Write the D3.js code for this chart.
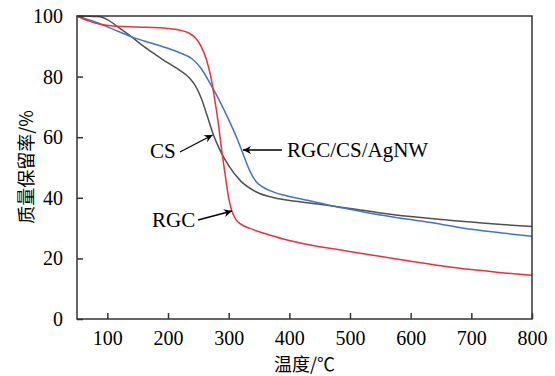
<!DOCTYPE html>
<html><head><meta charset="utf-8">
<script src="https://cdn.jsdelivr.net/npm/d3@7"></script>
<style>body{margin:0;background:#fff}svg{display:block}
.serif{font-family:"Liberation Serif","Times New Roman",Times,serif}
.cjk{font-family:"Noto Sans CJK SC","Noto Sans CJK JP",sans-serif}
</style>
</head><body>
<svg id="c" width="555" height="376"></svg>
<script>
const xTicks = [100,200,300,400,500,600,700,800];
const yTicks = [0,20,40,60,80,100];
const csT = [50,85,100,120,140,160,180,200,220,235,245,255,265,275,285,300,320,345,375,410,450,500,550,600,650,700,750,800];
const csW = [100,99.8,98.8,96,93.1,90,87.2,84.5,82,79.6,77,72.8,66.8,60.7,56,50.6,45.5,42,40,38.9,37.9,36.5,35,33.8,32.8,32,31.2,30.5];
const agT = [50,80,110,140,180,220,240,255,270,285,300,315,325,335,345,355,370,390,420,460,500,550,600,650,700,750,800];
const agW = [100,98,95.6,93.1,90.6,87.8,85.8,82.6,77.5,72,65.8,59,53.8,48.8,45.4,43.7,42.2,40.9,39.6,37.8,36.2,34.3,32.8,31.3,29.6,28.4,27.3];
const rgT = [50,70,90,110,150,200,220,235,245,255,263,270,277,283,289,295,300,305,312,320,335,360,390,430,480,530,590,650,700,750,800];
const rgW = [100,98.3,97.2,96.7,96.4,95.9,95.3,94.3,92.8,89.8,85.8,80.5,72.5,64.5,55,46.5,40,35.8,32.8,31.3,29.9,28.2,26.4,24.6,22.9,21.3,19.4,17.6,16.3,15.3,14.4];
const seriesNames = ["CS","RGC/CS/AgNW","RGC"];
const colors = ["#505050","#4472c4","#e8323e"];
const xLabel = "温度/℃", yLabel = "质量保留率/%";

const svg = d3.select("#c");
const L=77,R=532,T=16,B=319;
const x = d3.scaleLinear().domain([50,800]).range([L,R]);
const y = d3.scaleLinear().domain([0,100]).range([B,T]);

const data = [[csT,csW],[agT,agW],[rgT,rgW]];
const line = d3.line().x(d=>x(d[0])).y(d=>y(d[1])).curve(d3.curveMonotoneX);
data.forEach((s,i)=>{
  const pts = s[0].map((t,j)=>[t,s[1][j]]);
  svg.append("path").attr("d",line(pts)).attr("fill","none")
    .attr("stroke",colors[i]).attr("stroke-width",1.5);
});

// axes
const xa = svg.append("g").attr("transform",`translate(0,${B})`)
  .call(d3.axisBottom(x).tickValues(xTicks).tickSizeInner(-6).tickSizeOuter(0).tickPadding(12));
const ya = svg.append("g").attr("transform",`translate(${L},0)`)
  .call(d3.axisLeft(y).tickValues(yTicks).tickSizeInner(-6).tickSizeOuter(0).tickPadding(14));
[xa,ya].forEach(a=>{
  a.attr("font-family",null).attr("font-size",null);
  a.select(".domain").remove();
  a.selectAll("line").attr("stroke","#333").attr("stroke-width",1.5);
  a.selectAll("text").attr("class","serif").style("font-size","20px").attr("fill","#000");
});
svg.append("rect").attr("x",L).attr("y",T).attr("width",R-L).attr("height",B-T)
  .attr("fill","none").attr("stroke","#333").attr("stroke-width",1.5);

// titles
svg.append("text").attr("class","cjk").attr("x",(L+R)/2).attr("y",371).attr("text-anchor","middle")
  .style("font-size","18px").attr("fill","#000").text(xLabel);
svg.append("text").attr("class","cjk").attr("transform","translate(33,167) rotate(-90)").attr("text-anchor","middle")
  .style("font-size","18px").attr("fill","#000").text(yLabel);

// annotations
svg.append("defs").append("marker").attr("id","ah").attr("viewBox","0 0 10 10")
  .attr("refX",10).attr("refY",5).attr("markerWidth",10).attr("markerHeight",8)
  .attr("markerUnits","userSpaceOnUse").attr("orient","auto")
  .append("path").attr("d","M0,0L10,5L0,10L3,5Z").attr("fill","#000");
const ann = [
  {t:seriesNames[0], tx:150, ty:158, a:[180,152,212.5,135]},
  {t:seriesNames[1], tx:287, ty:157, a:[282,150,243,150]},
  {t:seriesNames[2], tx:152, ty:227, a:[198,220,232,211]}
];
ann.forEach(d=>{
  svg.append("text").attr("class","serif").attr("x",d.tx).attr("y",d.ty)
    .style("font-size","21px").attr("fill","#000").text(d.t);
  svg.append("line").attr("x1",d.a[0]).attr("y1",d.a[1]).attr("x2",d.a[2]).attr("y2",d.a[3])
    .attr("stroke","#000").attr("stroke-width",1.3).attr("marker-end","url(#ah)");
});
</script>
</body></html>
